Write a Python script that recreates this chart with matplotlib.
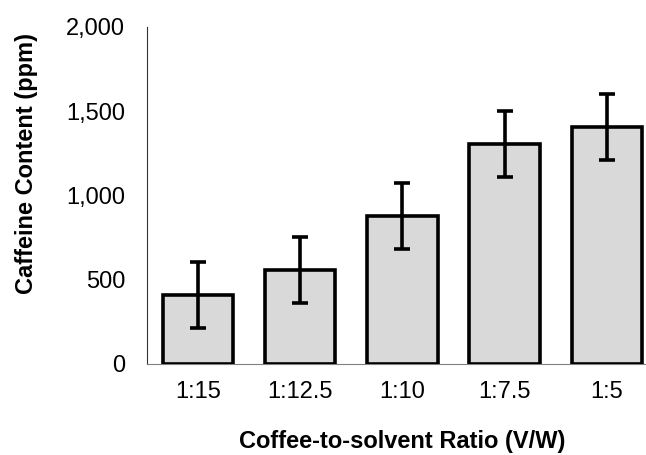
import matplotlib
matplotlib.use("Agg")
import matplotlib.pyplot as plt
from matplotlib.ticker import FuncFormatter

categories = ["1:15", "1:12.5", "1:10", "1:7.5", "1:5"]
values = [408, 557, 880, 1305, 1406]
errors = [197, 197, 197, 197, 197]
yticks = [0, 500, 1000, 1500, 2000]

plt.rcParams['font.family'] = ['Liberation Sans', 'DejaVu Sans']

fig = plt.figure(figsize=(6.46, 4.55), dpi=100)
ax = fig.add_axes([0.227, 0.2, 0.792, 0.7407])

x = list(range(len(categories)))
ax.bar(x, values, width=0.69, color='#d9d9d9', edgecolor='black', linewidth=2.6, zorder=3)
ax.errorbar(x, values, yerr=errors, fmt='none', ecolor='black', elinewidth=2.6,
            capsize=5.5, capthick=2.6, zorder=4)

ax.set_xlim(-0.5, len(categories) - 0.5)
ax.set_ylim(0, 2000)
ax.set_yticks(yticks)
ax.yaxis.set_major_formatter(FuncFormatter(lambda v, p: f"{int(v):,}"))
ax.set_xticks(x)
ax.set_xticklabels(categories)
ax.tick_params(axis='y', length=0, pad=15.5, labelsize=17)
ax.tick_params(axis='x', length=0, pad=12, labelsize=17)

for s in ['top', 'right']:
    ax.spines[s].set_visible(False)
ax.spines['left'].set_color('#333333')
ax.spines['left'].set_linewidth(0.8)
ax.spines['bottom'].set_color('#808080')
ax.spines['bottom'].set_linewidth(0.8)

ax.set_xlabel("Coffee-to-solvent Ratio (V/W)", fontsize=17, fontweight='bold')
ax.set_ylabel("Caffeine Content (ppm)", fontsize=17, fontweight='bold')
ax.xaxis.set_label_coords(0.5, -0.196)
ax.yaxis.set_label_coords(-0.2126, 0.595)

fig.savefig("out.png", dpi=100)
